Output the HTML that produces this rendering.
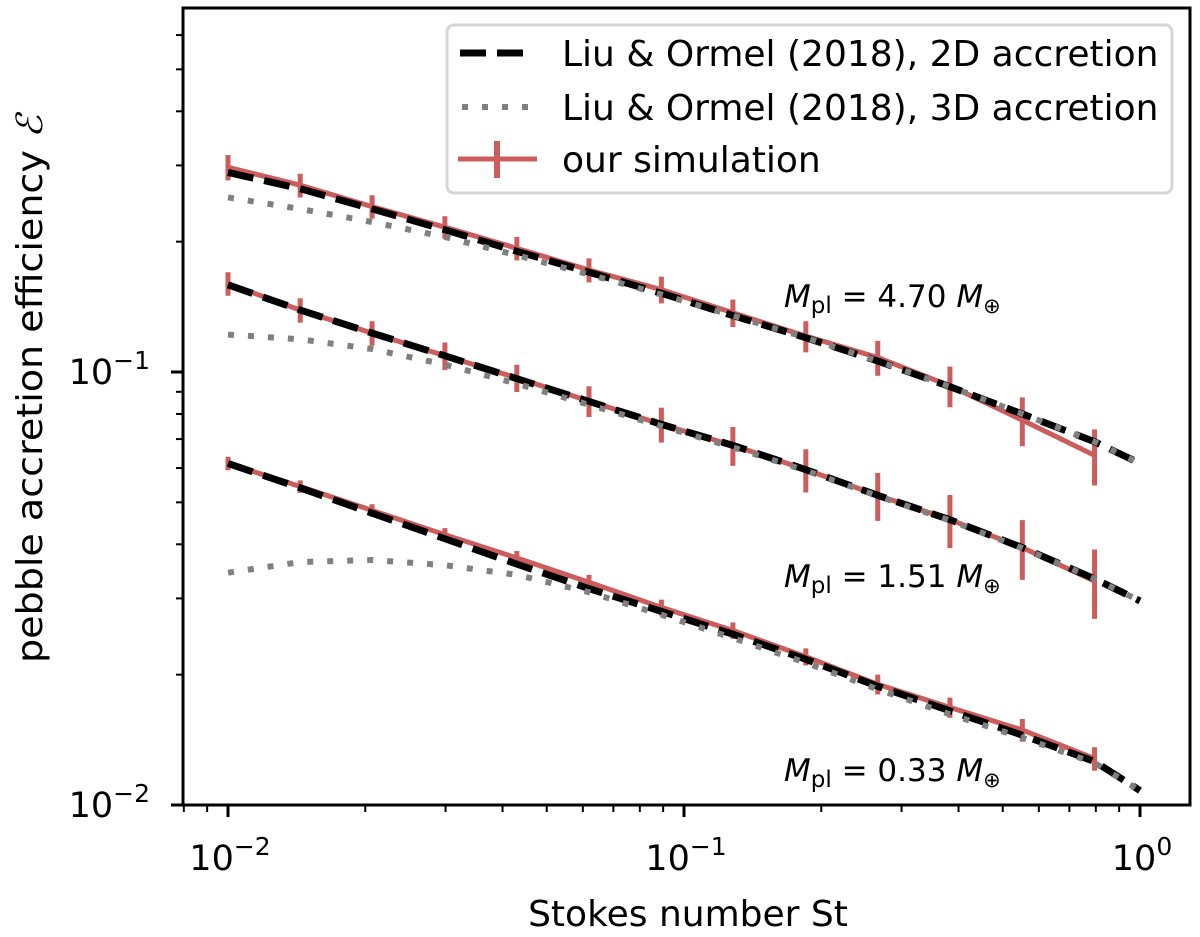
<!DOCTYPE html>
<html><head><meta charset="utf-8"><style>
body{margin:0;background:#fff}
svg text{font-family:"DejaVu Sans","Liberation Sans",sans-serif;fill:#000}
</style></head><body>
<svg id="chart" width="1200" height="932" viewBox="0 0 1200 932" xmlns="http://www.w3.org/2000/svg">
<g id="plot"></g>
</svg>
<script>
const stSim=[0.01,0.0144,0.0207,0.0299,0.043,0.0619,0.0892,0.128,0.185,0.266,0.383,0.552,0.795];
const simHigh=[0.297,0.270,0.241,0.216,0.193,0.172,0.155,0.137,0.121,0.108,0.0929,0.0774,0.0642];
const simMid=[0.160,0.139,0.123,0.109,0.0969,0.0857,0.0757,0.0677,0.0595,0.0519,0.0456,0.0393,0.0329];
const simLow=[0.0615,0.0544,0.0479,0.0421,0.0372,0.0327,0.0286,0.0253,0.0220,0.0190,0.0168,0.0149,0.0128];
const errHigh=[0.020,0.017,0.015,0.013,0.012,0.011,0.011,0.010,0.010,0.010,0.010,0.010,0.0095];
const errMid=[0.010,0.009,0.008,0.008,0.007,0.007,0.007,0.0070,0.0068,0.0066,0.0064,0.0062,0.0060];
const errLow=[0.0022,0.0018,0.0016,0.0015,0.0014,0.0013,0.0012,0.0011,0.0010,0.0010,0.0009,0.0009,0.0008];
const stCurve=[0.01,0.0144,0.0207,0.0299,0.043,0.0619,0.0892,0.128,0.185,0.266,0.383,0.552,0.795,1.0];
const lo2dHigh=[0.289,0.265,0.238,0.213,0.190,0.170,0.152,0.135,0.120,0.106,0.0925,0.0800,0.0690,0.0615];
const lo2dMid=[0.159,0.139,0.123,0.109,0.0965,0.0855,0.0757,0.0677,0.0595,0.0519,0.0456,0.0393,0.0333,0.0296];
const lo2dLow=[0.0615,0.0540,0.0472,0.0412,0.0360,0.0316,0.0280,0.0248,0.0217,0.0188,0.0165,0.0145,0.0126,0.0108];
const lo3dHigh=[0.253,0.238,0.222,0.205,0.186,0.168,0.151,0.135,0.120,0.106,0.0925,0.0800,0.0690,0.0615];
const lo3dMid=[0.122,0.119,0.113,0.104,0.094,0.084,0.075,0.0670,0.0592,0.0517,0.0454,0.0392,0.0333,0.0296];
const lo3dLow=[0.0344,0.0364,0.0368,0.0358,0.0340,0.0310,0.0275,0.0243,0.0213,0.0185,0.0162,0.0143,0.0125,0.0108];
const massLabels=["4.70","1.51","0.33"];
const xTickLabels=["−2","−1","0"];
const yTickLabels=["−2","−1"];

const NS="http://www.w3.org/2000/svg";
const L=183,R=1190,T=8,B=805;
const X=v=>228+(Math.log10(v)+2)*456;
const Y=v=>805-(Math.log10(v)+2)*433;
const g=document.getElementById('plot');
function mk(tag,attrs,parent){const e=document.createElementNS(NS,tag);for(const k in attrs)e.setAttribute(k,attrs[k]);(parent||g).appendChild(e);return e;}
const clip=mk('clipPath',{id:'cp'});mk('rect',{x:L,y:T,width:R-L,height:B-T},clip);
const data=mk('g',{'clip-path':'url(#cp)'});


function line(xs,ys,style,name){
  const p=mk('polyline',Object.assign({points:xs.map((x,i)=>X(x)+','+Y(ys[i])).join(' '),fill:'none'},style),data);
  
  
}
const sims=[[simHigh,errHigh,'high'],[simMid,errMid,'mid'],[simLow,errLow,'low']];
sims.forEach(([s,e,n])=>{
  line(stSim,s,{stroke:'#cd5c5c','stroke-width':5},'simulation-line-'+n);
  stSim.forEach((x,i)=>{
    const b=mk('line',{x1:X(x),x2:X(x),y1:Y(s[i]+e[i]),y2:Y(Math.max(s[i]-e[i],1e-4)),stroke:'#cd5c5c','stroke-width':5},data);
    
    
  });
});
[[lo2dHigh,'high'],[lo2dMid,'mid'],[lo2dLow,'low']].forEach(([s,n])=>line(stCurve,s,{stroke:'#000','stroke-width':7,'stroke-dasharray':'26 11'},'lo2d-line-'+n));
[[lo3dHigh,'high'],[lo3dMid,'mid'],[lo3dLow,'low']].forEach(([s,n])=>line(stCurve,s,{stroke:'#808080','stroke-width':6,'stroke-dasharray':'6 14'},'lo3d-line-'+n));

const annY=[307,587,781];
massLabels.forEach((m,i)=>{
  const t=mk('text',{x:784,y:annY[i],'font-size':31});
  
  
  t.innerHTML='<tspan font-style="italic">M</tspan><tspan font-size="23" dy="6">pl</tspan><tspan dy="-6"> = '+m+' </tspan><tspan font-style="italic">M</tspan><tspan font-size="21" dy="6">⊕</tspan>';
});

const fr=mk('rect',{x:L,y:T,width:R-L,height:B-T,fill:'none',stroke:'#000','stroke-width':3});



for(let d=-3;d<=0;d++){for(let k=1;k<10;k++){const v=k*Math.pow(10,d);const x=X(v);if(x<L-1||x>R)continue;
  const major=k===1;mk('line',{x1:x,x2:x,y1:B,y2:B+(major?12:7),stroke:'#000','stroke-width':major?3:2});}}
[0.01,0.1,1].forEach((v,i)=>{const t=mk('text',{x:X(v)+2,y:870,'font-size':35,'text-anchor':'middle'});
  
  
  t.innerHTML='10<tspan font-size="25" dy="-15">'+xTickLabels[i]+'</tspan>';});
for(let d=-2;d<=-1;d++){for(let k=1;k<10;k++){const v=k*Math.pow(10,d);const y=Y(v);if(y<T||y>B+1)continue;
  const major=k===1;mk('line',{x1:L,x2:L-(major?12:7),y1:y,y2:y,stroke:'#000','stroke-width':major?3:2});}}
[0.01,0.1].forEach((v,i)=>{const t=mk('text',{x:150,y:Y(v)+12,'font-size':35,'text-anchor':'end'});
  
  
  t.innerHTML='10<tspan font-size="25" dy="-15">'+yTickLabels[i]+'</tspan>';});

const xl=mk('text',{x:688,y:926,'font-size':36,'text-anchor':'middle'});xl.textContent='Stokes number St';


const yl=mk('text',{x:0,y:0,'font-size':36,'text-anchor':'middle',textLength:548,lengthAdjust:'spacingAndGlyphs',transform:'translate(42,389) rotate(-90)'});
yl.innerHTML='pebble accretion efficiency <tspan font-style="italic" font-family="Liberation Serif">ℰ</tspan>';



const lg=mk('g',{});


mk('rect',{x:447,y:25,width:725,height:168,rx:7,fill:'#fff','fill-opacity':0.85,stroke:'#d6d6d6','stroke-width':3},lg);
const rows=[['Liu &amp; Ormel (2018), 2D accretion',53],['Liu &amp; Ormel (2018), 3D accretion',107],['our simulation',159]];
mk('line',{x1:460,x2:530,y1:53,y2:53,stroke:'#000','stroke-width':7,'stroke-dasharray':'26 11'},lg);
mk('line',{x1:462,x2:530,y1:107,y2:107,stroke:'#808080','stroke-width':6,'stroke-dasharray':'6 14'},lg);
mk('line',{x1:458,x2:537,y1:159,y2:159,stroke:'#cd5c5c','stroke-width':5},lg);
mk('line',{x1:497,x2:497,y1:141,y2:178,stroke:'#cd5c5c','stroke-width':6},lg);
rows.forEach(([s,y])=>{const t=mk('text',{x:562,y:y+13,'font-size':36},lg);t.innerHTML=s;
  
  });
</script>
</body></html>
